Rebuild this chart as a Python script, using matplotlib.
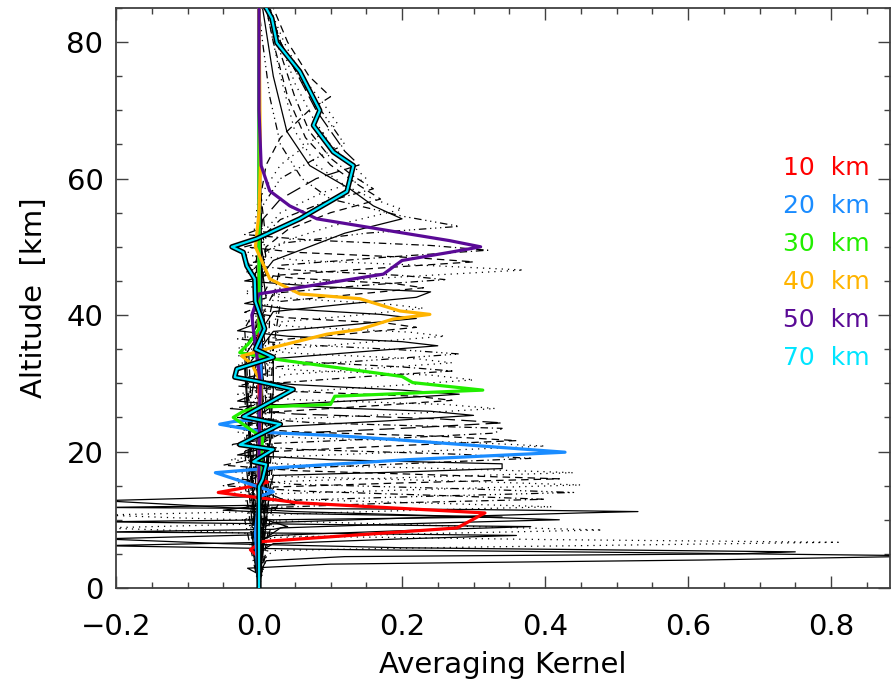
import matplotlib
matplotlib.use('Agg')
import matplotlib.pyplot as plt
import matplotlib.patheffects as pe

# averaging kernels: altitude [km] and kernel value
# black kernels, one list per retrieval level
black_alt = [
    [0, 2.0, 2.9, 3.5, 4.1, 4.7, 5.2, 5.7, 6.2, 6.7, 9.0, 14.0, 30.0, 85],
    [0, 3.0, 4.0, 4.6, 5.0, 5.3, 5.9, 6.5, 7.2, 7.8, 10, 15, 30, 85],
    [0, 4.0, 5.5, 6.0, 6.7, 7.1, 7.6, 8.2, 8.8, 9.4, 12, 20, 85],
    [0, 5.0, 6.5, 7.2, 7.7, 8.0, 8.2, 8.6, 9.0, 10.3, 14, 25, 85],
    [0, 6.0, 7.4, 8.0, 8.5, 9.0, 9.8, 10.3, 10.7, 11.2, 15, 25, 85],
    [0, 6.5, 7.7, 8.4, 9.0, 9.3, 9.7, 10.4, 10.9, 11.4, 12.2, 16, 85],
    [0, 7.0, 8.8, 9.4, 10.0, 10.5, 11.2, 12.0, 12.8, 13.4, 18, 85],
    [0, 8.0, 9.6, 10.4, 11.0, 11.2, 11.5, 11.8, 12.2, 14.0, 20, 85],
    [0, 9.0, 10.8, 11.4, 11.9, 12.4, 13.0, 13.8, 14.5, 20, 85],
    [0, 10.0, 11.8, 12.5, 13.0, 13.5, 14.2, 15.0, 15.8, 22, 85],
    [0, 11.0, 12.8, 13.4, 14.0, 14.5, 15.2, 16.0, 16.8, 25, 85],
    [0, 12.0, 13.8, 14.5, 15.1, 15.6, 16.3, 17.0, 17.8, 25, 85],
    [0, 13.0, 14.8, 15.4, 16.0, 16.5, 17.2, 18.0, 18.8, 26, 85],
    [0, 14.0, 15.6, 16.3, 16.9, 17.4, 18.0, 18.8, 19.6, 28, 85],
    [0, 14.5, 16.5, 17.0, 17.5, 18.2, 18.8, 19.5, 20.3, 28, 85],
    [0, 15.5, 17.4, 18.2, 19.0, 19.6, 20.3, 21.0, 21.8, 30, 85],
    [0, 17.0, 19.2, 20.0, 20.8, 21.3, 22.0, 22.8, 23.5, 32, 85],
    [0, 18.0, 20.0, 20.8, 21.6, 22.2, 22.9, 23.6, 24.4, 32, 85],
    [0, 19.0, 21.2, 22.0, 22.7, 23.4, 24.2, 25.0, 25.8, 34, 85],
    [0, 20.0, 22.6, 23.4, 24.2, 24.8, 25.5, 26.3, 27.0, 36, 85],
    [0, 21.0, 23.6, 24.5, 25.3, 25.9, 26.6, 27.4, 28.2, 36, 85],
    [0, 22.0, 24.7, 25.5, 26.3, 26.9, 27.6, 28.4, 29.2, 38, 85],
    [0, 23.0, 25.8, 26.7, 27.5, 28.1, 28.8, 29.6, 30.3, 38, 85],
    [0, 24.0, 26.8, 27.6, 28.4, 29.0, 29.8, 30.6, 31.4, 40, 85],
    [0, 25.0, 28.6, 29.6, 30.5, 31.2, 31.9, 32.7, 33.5, 42, 85],
    [0, 26.0, 30.0, 31.0, 31.8, 32.4, 33.2, 34.0, 34.8, 42, 85],
    [0, 27.0, 31.2, 32.2, 33.0, 33.6, 34.4, 35.2, 36.0, 44, 85],
    [0, 28.0, 32.4, 33.4, 34.3, 34.9, 35.7, 36.5, 37.3, 45, 85],
    [0, 29.0, 33.6, 34.6, 35.5, 36.1, 36.9, 37.7, 38.5, 46, 85],
    [0, 30.0, 35.0, 36.0, 36.9, 37.5, 38.3, 39.1, 39.9, 48, 85],
    [0, 31.0, 36.3, 37.3, 38.2, 38.8, 39.6, 40.4, 41.2, 48, 85],
    [0, 32.0, 37.6, 38.6, 39.5, 40.1, 40.9, 41.7, 42.5, 50, 85],
    [0, 33.0, 39.0, 40.0, 41.0, 41.6, 42.4, 43.2, 44.0, 52, 85],
    [0, 34.0, 40.5, 41.6, 42.6, 43.4, 44.2, 45.0, 45.8, 52, 85],
    [0, 35.0, 42.0, 43.0, 44.0, 44.6, 45.4, 46.2, 47.0, 54, 85],
    [0, 36.0, 43.2, 44.3, 45.2, 45.8, 46.6, 47.4, 48.2, 56, 85],
    [0, 37.0, 44.5, 45.6, 46.6, 47.2, 48.0, 48.8, 49.6, 58, 85],
    [0, 38.0, 45.8, 46.9, 47.8, 48.4, 49.2, 50.0, 50.8, 60, 85],
    [0, 40.0, 47.3, 48.5, 49.5, 50.2, 51.0, 51.8, 52.6, 62, 85],
    [0, 42, 48.5, 50.5, 52.0, 53.0, 54.5, 57, 60, 65, 72, 80, 85],
    [0, 40, 46, 48, 50, 52, 54.1, 56, 58.5, 61.9, 66.9, 75, 85],
    [0, 44, 49, 51, 53, 55.5, 57, 59, 62, 67, 75, 85],
    [0, 46, 50, 52.5, 55, 57, 59, 62, 66, 72, 80, 85],
    [0, 47, 51, 54, 56.5, 58.5, 60.5, 63, 67, 72, 80, 85],
    [0, 48, 52, 55, 58, 60, 62, 65, 69, 74, 80, 85],
    [0, 50, 54, 57, 60, 62, 64, 67, 70, 75, 80, 85],
    [0, 52, 56, 60, 63, 65, 68, 71, 75, 80, 85],
    [0, 54, 58, 62, 66, 68, 71, 75, 80, 85],
    [0, 56, 62, 66, 70, 72, 75, 80, 85],
]
black_ak = [
    [0, 0.0, -0.016, 0.10, 0.62, 0.95, 0.52, 0.06, -0.22, 0.01, -0.01, 0.005, 0, 0],
    [0, 0.005, 0.01, 0.12, 0.67, 0.75, 0.20, -0.05, -0.22, 0.0, 0.01, -0.005, 0, 0],
    [0, 0.005, 0.02, 0.30, 0.81, 0.40, 0.05, -0.05, -0.22, 0.0, 0.01, 0, 0],
    [0, -0.005, 0.02, 0.20, 0.36, 0.10, -0.22, 0.02, 0.04, 0.0, 0.01, 0, 0],
    [0, 0.005, 0.02, 0.25, 0.48, 0.30, 0.04, -0.12, -0.22, 0.0, -0.01, 0, 0],
    [0, -0.01, 0.02, 0.20, 0.38, 0.10, -0.22, 0.34, 0.05, -0.05, 0.01, 0, 0],
    [0, 0.005, 0.03, 0.20, 0.42, 0.28, 0.05, -0.08, -0.22, 0.0, 0.005, 0],
    [0, -0.01, 0.02, 0.25, 0.45, 0.53, 0.30, -0.22, 0.05, 0.01, 0, 0],
    [0, 0.02, 0.03, 0.22, 0.41, 0.25, 0.04, -0.04, 0.01, 0.005, 0],
    [0, -0.02, 0.02, 0.20, 0.40, 0.27, 0.06, -0.05, -0.01, 0.005, 0],
    [0, 0.02, 0.03, 0.22, 0.44, 0.30, 0.05, -0.03, 0.01, 0, 0],
    [0, -0.015, 0.02, 0.25, 0.45, 0.30, 0.05, -0.04, 0.0, 0.005, 0],
    [0, 0.02, 0.02, 0.20, 0.42, 0.27, 0.05, -0.05, -0.01, 0, 0],
    [0, -0.02, 0.03, 0.24, 0.44, 0.30, 0.06, -0.04, 0.01, 0, 0],
    [0, 0.015, 0.02, 0.20, 0.34, 0.34, 0.10, -0.03, 0.0, 0.005, 0],
    [0, -0.02, 0.02, 0.20, 0.38, 0.28, 0.06, -0.04, 0.01, 0, 0],
    [0, 0.02, 0.03, 0.22, 0.40, 0.30, 0.06, -0.03, -0.01, 0, 0],
    [0, -0.015, 0.02, 0.18, 0.36, 0.26, 0.05, -0.04, 0.01, 0, 0],
    [0, 0.02, 0.02, 0.20, 0.33, 0.34, 0.08, -0.03, 0.0, 0, 0],
    [0, -0.02, 0.03, 0.20, 0.34, 0.25, 0.05, -0.04, 0.01, 0, 0],
    [0, 0.015, 0.02, 0.18, 0.30, 0.24, 0.05, -0.03, -0.01, 0, 0],
    [0, -0.02, 0.03, 0.20, 0.33, 0.26, 0.05, -0.03, 0.01, 0, 0],
    [0, 0.02, 0.02, 0.16, 0.27, 0.22, 0.05, -0.03, 0.0, 0, 0],
    [0, -0.015, 0.02, 0.16, 0.28, 0.20, 0.05, -0.03, 0.01, 0, 0],
    [0, 0.02, 0.03, 0.18, 0.30, 0.24, 0.06, -0.03, -0.01, 0, 0],
    [0, -0.02, 0.02, 0.15, 0.27, 0.20, 0.05, -0.03, 0.01, 0, 0],
    [0, 0.015, 0.03, 0.16, 0.27, 0.22, 0.05, -0.03, 0.0, 0, 0],
    [0, -0.02, 0.02, 0.16, 0.28, 0.20, 0.05, -0.03, 0.01, 0, 0],
    [0, 0.02, 0.02, 0.14, 0.25, 0.20, 0.04, -0.03, -0.01, 0, 0],
    [0, -0.015, 0.03, 0.15, 0.26, 0.21, 0.05, -0.02, 0.01, 0, 0],
    [0, 0.02, 0.02, 0.13, 0.22, 0.18, 0.04, -0.02, 0.0, 0, 0],
    [0, -0.02, 0.02, 0.13, 0.22, 0.17, 0.04, -0.02, 0.01, 0, 0],
    [0, 0.015, 0.03, 0.14, 0.23, 0.18, 0.05, -0.02, -0.01, 0, 0],
    [0, -0.02, 0.02, 0.12, 0.22, 0.24, 0.08, -0.02, 0.01, 0, 0],
    [0, 0.02, 0.03, 0.13, 0.23, 0.19, 0.05, -0.02, 0.0, 0, 0],
    [0, -0.015, 0.02, 0.14, 0.26, 0.20, 0.05, -0.02, 0.01, 0, 0],
    [0, 0.02, 0.03, 0.20, 0.37, 0.25, 0.06, -0.02, -0.01, 0, 0],
    [0, -0.02, 0.02, 0.17, 0.30, 0.22, 0.05, -0.02, 0.01, 0, 0],
    [0, 0.015, 0.03, 0.18, 0.32, 0.24, 0.07, -0.02, 0.0, 0, 0],
    [0, 0, -0.005, 0.03, 0.15, 0.28, 0.20, 0.10, 0.06, 0.03, 0.015, 0.005, 0.0],
    [0, 0, 0.005, 0.02, 0.07, 0.12, 0.20, 0.16, 0.127, 0.071, 0.039, 0.02, 0.005],
    [0, 0, 0.01, 0.04, 0.10, 0.20, 0.16, 0.12, 0.08, 0.05, 0.03, 0.01],
    [0, 0, 0.01, 0.04, 0.10, 0.17, 0.14, 0.10, 0.065, 0.04, 0.02, 0.01],
    [0, -0.005, 0.0, 0.03, 0.09, 0.16, 0.13, 0.10, 0.07, 0.05, 0.025, 0.012],
    [0, 0, 0.005, 0.03, 0.09, 0.15, 0.13, 0.10, 0.075, 0.05, 0.03, 0.015],
    [0, 0, 0.005, 0.03, 0.08, 0.14, 0.12, 0.10, 0.08, 0.055, 0.03, 0.015],
    [0, 0, 0.005, 0.03, 0.08, 0.12, 0.10, 0.08, 0.055, 0.03, 0.015],
    [0, 0, 0.005, 0.03, 0.08, 0.11, 0.09, 0.06, 0.035, 0.015],
    [0, 0, 0.01, 0.03, 0.07, 0.10, 0.07, 0.04, 0.02],
]

# highlighted kernels
sel_labels = ['10 km', '20 km', '30 km', '40 km', '50 km', '70 km']
sel_alt = [
    [0, 4.5, 5.6, 6.8, 8.8, 11.0, 12.5, 13.1, 14.0, 14.7, 15.5, 15.9, 16.5, 20, 30, 50, 85],
    [0, 8, 13.4, 14.1, 16.9, 17.6, 18.8, 19.9, 20.9, 21.8, 22.3, 22.8, 24.0, 24.4, 24.7, 30, 50, 85],
    [0, 15, 22, 25.0, 25.9, 26.5, 26.9, 28.1, 29.0, 30.1, 31.0, 33.5, 34.5, 36.0, 38, 45, 85],
    [0, 20, 30, 32.8, 34.0, 35.0, 37.2, 37.9, 39.4, 40.1, 40.6, 42.4, 43.1, 45.3, 50, 55, 62, 85],
    [0, 20, 30, 38, 40, 43.1, 46.0, 48.0, 49.2, 50.0, 50.9, 54.1, 56.0, 58.2, 61.9, 70, 85],
    [0, 14.9, 15.9, 18.1, 18.5, 20.3, 21.0, 24.0, 25.1, 29.1, 30.3, 30.9, 32.1, 33.8, 35, 38,
     42, 45.3, 47.2, 49.2, 50.0, 51.2, 54.1, 58.1, 61.9, 63.9, 67.8, 70.0, 75.7, 79.9, 83.5, 85],
]
sel_ak = [
    [0, 0.0, -0.012, 0.004, 0.277, 0.316, 0.053, 0.01, -0.057, -0.02, 0.012, 0.005, 0.0, 0.002, 0, 0, 0],
    [0, -0.005, 0.0, 0.02, -0.061, 0.02, 0.207, 0.428, 0.30, 0.183, 0.113, 0.01, -0.055, -0.035, 0.0, 0.003, 0, 0],
    [0, 0.0, 0.005, -0.036, -0.022, 0.0, 0.10, 0.106, 0.313, 0.215, 0.20, 0.025, -0.027, -0.013, 0, 0, 0],
    [0, 0, 0.003, -0.01, -0.024, 0.01, 0.095, 0.141, 0.187, 0.239, 0.197, 0.141, 0.057, 0.015, -0.005, 0, 0.002, 0],
    [0, 0, 0.002, -0.008, -0.01, 0.0, 0.174, 0.20, 0.267, 0.31, 0.267, 0.081, 0.043, 0.015, 0.003, 0, 0],
    [0, 0.0, 0.005, 0.01, -0.008, 0.02, -0.027, 0.03, -0.022, 0.048, -0.003, -0.034, -0.031, 0.02, -0.005, 0.008,
     -0.005, -0.006, -0.017, -0.022, -0.038, -0.003, 0.057, 0.123, 0.132, 0.104, 0.076, 0.085, 0.057, 0.025, 0.018, 0.01],
]
sel_colors = ['#ff0000', '#1a8cff', '#22ee00', '#ffb400', '#5a0a96', '#00e5ff']

# IDL linestyles 0..5
idl_styles = ['-', (0, (1, 4)), (0, (6, 4)), (0, (6, 3, 1, 3)),
              (0, (6, 3, 1, 3, 1, 3, 1, 3)), (0, (12, 5))]
black_style = [0, 0, 1, 0, 1, 0, 0, 0, 1, 3, 4, 1, 2, 1, 0, 3, 1, 2, 3, 5,
               0, 1, 2, 0, 1, 3, 1, 4, 0, 1, 2, 0, 1, 0, 2, 3, 1, 2, 3,
               4, 0, 1, 2, 3, 1, 5, 4, 1, 2]

plt.rcParams['font.family'] = 'DejaVu Sans'
fig = plt.figure(figsize=(8.91, 6.84), dpi=100)
ax = fig.add_axes([116 / 891, 96 / 684, 774 / 891, 580 / 684])

for alt, ak, st in zip(black_alt, black_ak, black_style):
    ax.plot(ak, alt, color='k', lw=0.9, ls=idl_styles[st])

for i in range(len(sel_alt)):
    if sel_labels[i] == '70 km':
        ax.plot(sel_ak[i], sel_alt[i], color=sel_colors[i], lw=1.6, zorder=5,
                path_effects=[pe.Stroke(linewidth=3.8, foreground='k'), pe.Normal()])
    else:
        ax.plot(sel_ak[i], sel_alt[i], color=sel_colors[i], lw=2.3, zorder=4)

for i in range(len(sel_labels)):
    ax.text(0.862, 0.724 - i * 0.0655, sel_labels[i].replace(' ', '  '),
            color=sel_colors[i], fontsize=18, transform=ax.transAxes,
            ha='left', va='center')

ax.set_xlim(-0.2, 0.8825)
ax.set_ylim(0, 85)
ax.set_xticks([-0.2, 0.0, 0.2, 0.4, 0.6, 0.8])
ax.set_xticklabels(['\u22120.2', '0.0', '0.2', '0.4', '0.6', '0.8'])
ax.set_xticks([-0.15 + 0.05 * k for k in range(21) if k % 4 != 3], minor=True)
ax.set_yticks([0, 20, 40, 60, 80])
ax.set_yticks([5 * k for k in range(18) if k % 4 != 0], minor=True)
ax.tick_params(which='both', direction='in', top=True, right=True,
               color='0.25', labelsize=21)
ax.tick_params(which='major', length=8.5, width=1.0)
ax.tick_params(which='minor', length=4.5, width=1.0)
ax.tick_params(axis='x', pad=18)
ax.tick_params(axis='y', pad=9)
for s in ax.spines.values():
    s.set_color('0.25')
    s.set_linewidth(1.3)

ax.set_xlabel('Averaging Kernel', fontsize=21)
ax.xaxis.set_label_coords(0.5, -0.108)
ax.set_ylabel('Altitude  [km]', fontsize=21)
ax.yaxis.set_label_coords(-0.088, 0.5)

fig.savefig('out.png', dpi=100)
